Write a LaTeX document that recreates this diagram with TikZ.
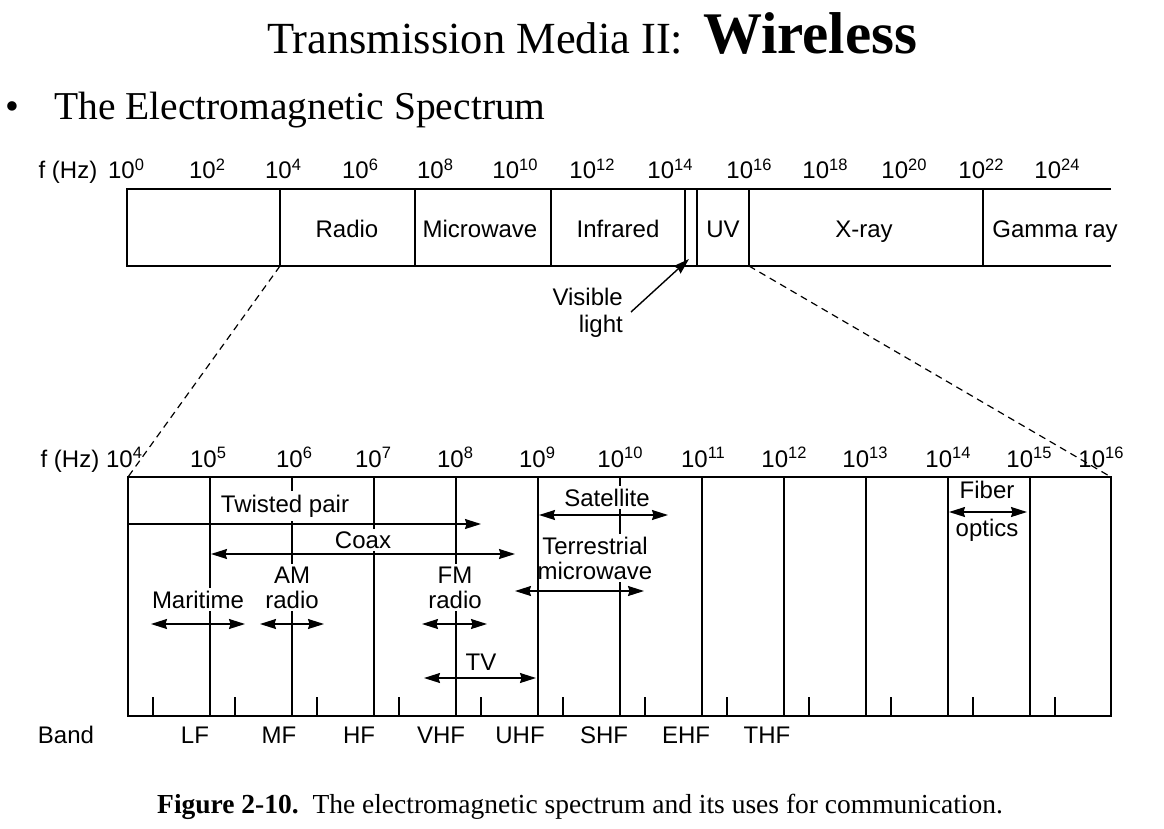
\documentclass[tikz,border=0pt]{standalone}
\usepackage{fontspec}
\setmainfont{Liberation Serif}
\newfontfamily\lsans{Liberation Sans}
\usetikzlibrary{arrows.meta}
\newcommand{\pw}[2][8pt]{10\raisebox{#1}{\fontsize{16.5}{16.5}\selectfont #2}}
\begin{document}
\begin{tikzpicture}[x=1pt,y=-1pt,
  every node/.style={inner sep=0pt},
  sf/.style={font=\lsans\fontsize{24}{25}\selectfont},
  axl/.style={sf,anchor=base},
  lab/.style={sf,fill=white,inner sep=2.5pt},
  frame/.style={line width=1.7pt},
  div/.style={line width=1.4pt},
  dsh/.style={line width=1.2pt,dash pattern=on 7pt off 5pt},
  arr/.tip={Stealth[length=16pt,width=10pt,inset=1.5pt]},
  tip/.style={line width=1.4pt,-arr},
  dbl/.style={line width=1.4pt,arr-arr}]
\useasboundingbox[fill=white] (0,0) rectangle (1164,828);

% ---------- titles ----------
\node[anchor=base west,font=\fontsize{44.5}{48}\selectfont] (title) at (267,53) {Transmission Media II:};
\node[anchor=base west,font=\bfseries\fontsize{59}{62}\selectfont] (wl) at (703,53) {Wireless};
\node[anchor=base,font=\fontsize{39.5}{42}\selectfont] (bul) at (12,119) {•};
\node[anchor=base west,font=\fontsize{39.5}{42}\selectfont] (sub) at (54,119) {The Electromagnetic Spectrum};

% ---------- top strip ----------
\node[axl] (fhz1) at (68,178) {f (Hz)};
\foreach \k/\x in {0/126,2/207,4/283,6/360,8/435,10/515,12/592,14/670,16/749,18/825,20/904,22/981,24/1057}
  \node[axl] (ta\k) at (\x,178) {\pw{\k}};

\coordinate (s1) at (127,189);
\coordinate (s2) at (1111,189);
\coordinate (s3) at (127,266);
\coordinate (s4) at (1111,266);
\draw[frame] (s2) -- (s1) -- (s3) -- (s4);
\foreach \x/\n in {280/a,415/b,551/c,685/d,697/e,749/f,983/g}
  \draw[div] (\x,189) coordinate (t\n) -- (\x,266) coordinate (b\n);

\node[axl] (radio) at (347,237) {Radio};
\node[axl] (micro) at (480,237) {Microwave};
\node[axl] (infra) at (618,237) {Infrared};
\node[axl] (uv) at (723,237) {UV};
\node[axl] (xray) at (864,237) {X-ray};
\node[axl] (gamma) at (1055,237) {Gamma ray};

\node[sf,anchor=base east] (vis) at (623,305) {Visible};
\node[sf,anchor=base east] (light) at (623,332) {light};
\coordinate (vtail) at (631,312);
\coordinate (vtip) at (689,259);
\draw[tip] (vtail) -- (vtip);

% ---------- lower box ----------
\coordinate (L1) at (128,477);
\coordinate (L2) at (1111,477);
\coordinate (L3) at (1111,716);
\coordinate (L4) at (128,716);
\draw[dsh] (ba) -- (L1);
\draw[dsh] (bf) -- (L2);

\node[axl] (fhz2) at (70,467) {f (Hz)};
\foreach \k/\x in {4/124,5/208,6/294,7/373,8/455,9/537,10/620,11/703,12/784,13/865,14/948,15/1029,16/1101}
  \node[axl] (la\k) at (\x,467) {\pw[9pt]{\k}};

\foreach \k in {1,...,11}
  \draw[div] ({128+82*\k},477) -- ({128+82*\k},716);
\foreach \i in {0,...,11}
  \draw[div] ({153+82*\i},697) -- ({153+82*\i},716);

% labels (white backgrounds hide the grid lines)
\node[lab,anchor=base,inner ysep=4pt] (tp) at (285,512) {Twisted pair};
\node[lab,anchor=base] (coax) at (363,548) {Coax};
\node[lab,anchor=base] (mar) at (198,608) {Maritime};
\node[lab,anchor=north,align=center] (am) at (292,564) {AM\\radio};
\node[lab,anchor=north,align=center] (fm) at (455,564) {FM\\radio};
\node[lab,anchor=base] (tv) at (481,670) {TV};
\node[lab,anchor=base] (sat) at (607,506) {Satellite};
\node[lab,anchor=north,align=center,font=\lsans\fontsize{24}{25}\selectfont] (ter) at (595,534) {Terrestrial\\microwave};
\node[axl] (fib) at (987,498) {Fiber};
\node[axl] (opt) at (987,536) {optics};

% the 10^9 line stays whole
\coordinate (g9a) at (538,477);
\coordinate (g9b) at (538,716);
\draw[div] (g9a) -- (g9b);
\draw[frame] (L1) -- (L2) -- (L3) -- (L4) -- cycle;

% arrows
\coordinate (tpA) at (128,524);  \coordinate (tpB) at (481,524);
\coordinate (cxA) at (211,554);  \coordinate (cxB) at (515,554);
\coordinate (mrA) at (151,624);  \coordinate (mrB) at (245,624);
\coordinate (amA) at (260,624);  \coordinate (amB) at (324,624);
\coordinate (fmA) at (422,624);  \coordinate (fmB) at (487,624);
\coordinate (tvA) at (424,678);  \coordinate (tvB) at (536,678);
\coordinate (stA) at (539,515);  \coordinate (stB) at (668,515);
\coordinate (trA) at (515,591);  \coordinate (trB) at (644,591);
\coordinate (fbA) at (949,512);  \coordinate (fbB) at (1027,512);
\draw[tip] (tpA) -- (tpB);
\draw[dbl] (cxA) -- (cxB);
\draw[dbl] (mrA) -- (mrB);
\draw[dbl] (amA) -- (amB);
\draw[dbl] (fmA) -- (fmB);
\draw[dbl] (tvA) -- (tvB);
\draw[dbl] (stA) -- (stB);
\draw[dbl] (trA) -- (trB);
\draw[dbl] (fbA) -- (fbB);

% band labels
\node[axl] (band) at (66,743) {Band};
\foreach \t/\x in {LF/195,MF/279,HF/359,VHF/441,UHF/520,SHF/604,EHF/686,THF/767}
  \node[axl] (bd\t) at (\x,743) {\t};

% caption
\node[anchor=base west,font=\fontsize{27.5}{30}\selectfont] (cap) at (157,813)
  {\textbf{Figure 2-10.}\ \ The electromagnetic spectrum and its uses for communication.};
\end{tikzpicture}
\end{document}
